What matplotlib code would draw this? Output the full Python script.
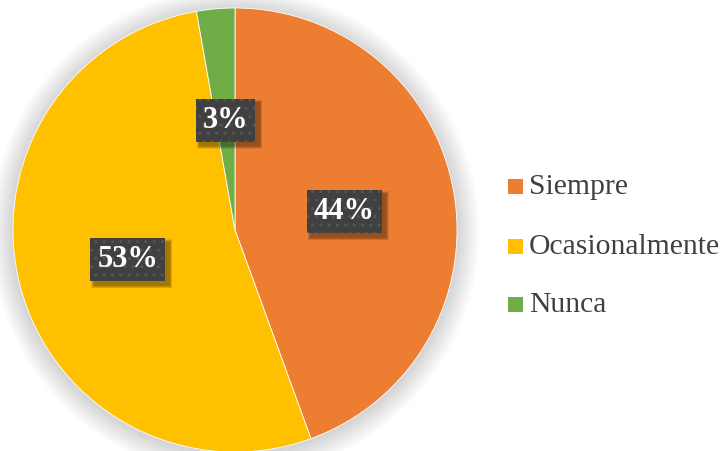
import matplotlib
matplotlib.use("Agg")
import matplotlib.pyplot as plt
from matplotlib.patches import Circle, Rectangle

categories = ["Siempre", "Ocasionalmente", "Nunca"]
values = [16, 19, 1]
colors = ["#ED7D31", "#FFC000", "#70AD47"]

plt.rcParams['font.family'] = ['Liberation Serif', 'DejaVu Serif']
plt.rcParams['hatch.color'] = '#555555'
plt.rcParams['hatch.linewidth'] = 1.0

W, H = 722, 452
fig = plt.figure(figsize=(W / 100, H / 100), dpi=100)
ax = fig.add_axes([0, 0, 1, 1])

cx, cy, r = 235, H - 231, 222

# soft shadow glow around the pie
for k in range(14, 0, -1):
    ax.add_patch(Circle((cx, cy - 2), r + k * 1.6, facecolor='#000000',
                        alpha=0.012, edgecolor='none', zorder=0))

wedges, texts, autotexts = ax.pie(
    values, colors=colors, startangle=90, counterclock=False,
    center=(cx, cy), radius=r, autopct=lambda p: f"{p:.0f}%",
    pctdistance=0.5, wedgeprops=dict(edgecolor='white', linewidth=0.6),
    frame=True)
ax.set_xlim(0, W)
ax.set_ylim(0, H)
ax.axis('off')

for t in autotexts:
    t.set_color('white')
    t.set_fontsize(22)
    t.set_fontweight('bold')
    t.set_zorder(10)

fig.canvas.draw()
renderer = fig.canvas.get_renderer()
inv = ax.transData.inverted()
for t in autotexts:
    bb = t.get_window_extent(renderer)
    (x0, y0), (x1, y1) = inv.transform([[bb.x0, bb.y0], [bb.x1, bb.y1]])
    xc, yc = (x0 + x1) / 2, (y0 + y1) / 2
    bw = (x1 - x0) + 14
    bh = 43
    # blurred drop shadow
    for k in range(6):
        g = 6 - k
        ax.add_patch(Rectangle((xc - bw / 2 + 4 - g / 2, yc - bh / 2 - 5 - g / 2),
                               bw + g, bh + g, facecolor='black', alpha=0.07,
                               edgecolor='none', zorder=7))
    ax.add_patch(Rectangle((xc - bw / 2, yc - bh / 2 - 1), bw, bh, facecolor='#404040',
                           edgecolor='none', zorder=8))
    ax.add_patch(Rectangle((xc - bw / 2, yc - bh / 2 - 1), bw, bh, facecolor='none',
                           edgecolor='#555555', linewidth=0, hatch='..', zorder=9))

# legend
leg_y = [187, 247, 305]
for name, col, y in zip(categories, colors, leg_y):
    ax.add_patch(Rectangle((508, H - y - 7.5), 15, 15, facecolor=col, edgecolor='none'))
    ax.text(529, H - y, name, fontsize=21.3, color='#404040', va='center', ha='left',
            family='Liberation Serif')

fig.savefig("out.png", dpi=100, facecolor='white')
